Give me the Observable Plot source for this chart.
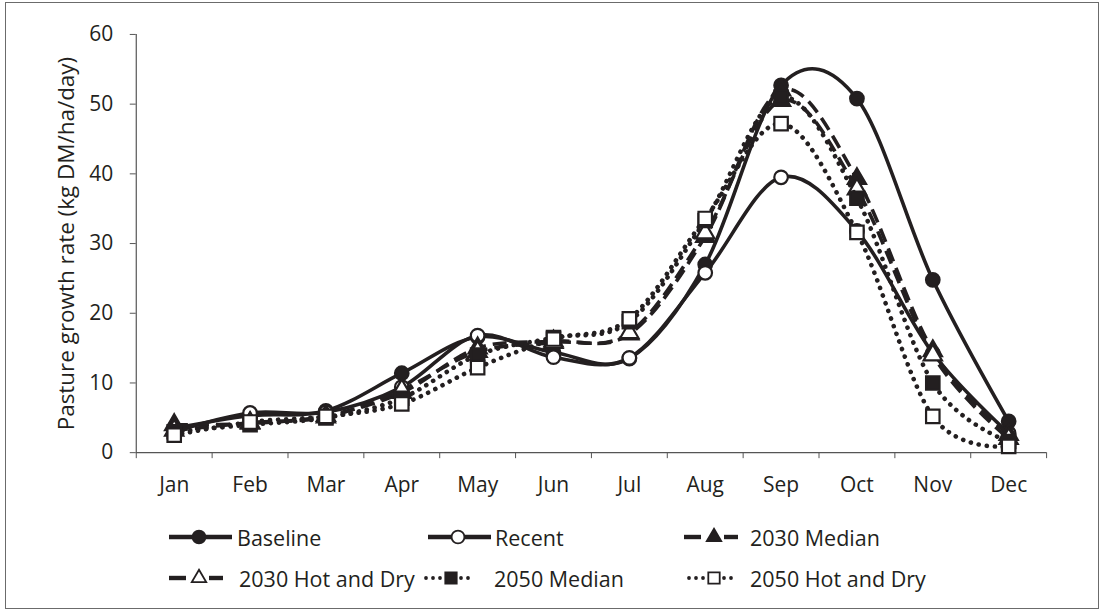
<!DOCTYPE html>
<html>
<head>
<meta charset="utf-8">
<script src="https://cdn.jsdelivr.net/npm/d3@7"></script>
<script src="https://cdn.jsdelivr.net/npm/@observablehq/plot@0.6"></script>
<style>
  html, body { margin: 0; padding: 0; background: #fff; }
  body { width: 1104px; height: 614px; position: relative; overflow: hidden; font-family: "Open Sans", sans-serif; }
  #frame { position: absolute; left: 5px; top: 2px; width: 1094px; height: 607px; border: 1px solid #6b6b6b; box-sizing: border-box; }
  #chart { position: absolute; left: 0; top: 0; }
  .leg { position: absolute; height: 24px; display: flex; align-items: center; font-size: 21.5px; color: #231f20; white-space: nowrap; }
  .leg svg { display: block; }
</style>
</head>
<body>
<div id="frame">
  <div id="chart"></div>
  <div id="legend"></div>
</div>
<script>
const months = ["Jan", "Feb", "Mar", "Apr", "May", "Jun", "Jul", "Aug", "Sep", "Oct", "Nov", "Dec"];
const yTicks = [0, 10, 20, 30, 40, 50, 60];
const seriesNames = ["Baseline", "Recent", "2030 Median", "2030 Hot and Dry", "2050 Median", "2050 Hot and Dry"];
const baseline = [3.5, 5.3, 6.0, 11.4, 16.6, 14.4, 13.5, 27.0, 52.7, 50.8, 24.8, 4.5];
const recent   = [3.0, 5.7, 5.8, 9.4, 16.8, 13.7, 13.6, 25.8, 39.5, 31.8, 14.3, 2.8];
const med2030  = [4.0, 4.2, 5.3, 8.6, 15.0, 16.0, 17.0, 31.0, 52.0, 39.3, 14.6, 2.6];
const hd2030   = [3.2, 4.3, 5.1, 9.0, 14.5, 15.8, 17.2, 31.5, 50.5, 37.8, 14.0, 2.0];
const med2050  = [3.0, 4.0, 5.0, 7.8, 14.0, 16.5, 18.8, 33.3, 51.0, 36.5, 10.0, 1.6];
const hd2050   = [2.5, 4.4, 5.2, 7.0, 12.2, 16.3, 19.2, 33.6, 47.2, 31.6, 5.2, 0.9];

const ink = "#231f20";
const styles = [
  {values: baseline, symbol: "circle",   fill: ink,    kind: "solid",  r: 6.8},
  {values: recent,   symbol: "circle",   fill: "#fff", kind: "solid",  r: 6.8},
  {values: med2030,  symbol: "triangle", fill: ink,    kind: "dash",   r: 6.8},
  {values: hd2030,   symbol: "triangle", fill: "#fff", kind: "dash",   r: 6.8},
  {values: med2050,  symbol: "square",   fill: ink,    kind: "dot",    r: 7.6},
  {values: hd2050,   symbol: "square",   fill: "#fff", kind: "dot",    r: 7.6}
];
const lineStyle = {
  solid: {strokeWidth: 3.6, strokeDasharray: null, strokeLinecap: "butt"},
  dash:  {strokeWidth: 3.6, strokeDasharray: "14,7", strokeLinecap: "butt"},
  dot:   {strokeWidth: 4.6, strokeDasharray: "0.1,8", strokeLinecap: "round"}
};

const marks = [
  Plot.ruleX([0], {stroke: "#555", strokeWidth: 1.2}),
  Plot.ruleY([0], {stroke: "#555", strokeWidth: 1.2}),
  Plot.axisY({ticks: yTicks, tickSize: 6, tickPadding: 17, fontSize: 21, stroke: "#555",
    label: "Pasture growth rate (kg DM/ha/day)", labelAnchor: "center", labelArrow: "none", labelOffset: 78,
    color: ink}),
  Plot.axisX({ticks: d3.range(13), tickSize: 6, tickFormat: () => "", stroke: "#555", label: null}),
  Plot.axisX({ticks: months.map((m, i) => i + 0.5), tickSize: 0, tickPadding: 24, fontSize: 21,
    tickFormat: d => months[Math.floor(d)], label: null, color: ink})
];

styles.forEach((s, k) => {
  const rows = s.values.map((v, i) => ({x: i + 0.5, y: v, series: seriesNames[k]}));
  marks.push(Plot.line(rows, {x: "x", y: "y", curve: "cardinal", tension: 0, stroke: ink, ...lineStyle[s.kind]}));
  marks.push(Plot.dot(rows, {x: "x", y: "y", symbol: s.symbol, r: s.r, fill: s.fill, stroke: ink, strokeWidth: 2.2}));
});

const chart = Plot.plot({
  width: 1094,
  height: 500,
  marginLeft: 130,
  marginRight: 52,
  marginTop: 31,
  marginBottom: 50,
  style: {fontFamily: "Open Sans, sans-serif", color: ink, background: "transparent"},
  x: {type: "linear", domain: [0, 12], axis: null},
  y: {domain: [0, 60], axis: null},
  marks
});
document.getElementById("chart").appendChild(chart);
chart.querySelectorAll("[aria-label='y-axis label'] text").forEach(t => t.setAttribute("font-size", "22.5"));

// Legend (HTML below the SVG)
const legendPos = [
  {left: 160, top: 522}, {left: 419, top: 522}, {left: 675, top: 522},
  {left: 160, top: 563}, {left: 412, top: 563}, {left: 675, top: 563}
];
const textGap = [-1, -2, -3, 1, 4, -3];
const legend = document.getElementById("legend");
styles.forEach((s, k) => {
  const item = document.createElement("div");
  item.className = "leg";
  item.style.left = legendPos[k].left + "px";
  item.style.top = legendPos[k].top + "px";
  const w = 72, h = 24, cx = 33, cy = 12;
  const svg = d3.create("svg").attr("width", w).attr("height", h);
  const seg = (a, b) => svg.append("line").attr("x1", a).attr("x2", b).attr("y1", cy).attr("y2", cy)
    .attr("stroke", ink).attr("stroke-width", 4.4);
  const dot = (x) => svg.append("circle").attr("cx", x).attr("cy", cy).attr("r", 1.9).attr("fill", ink);
  if (s.kind === "solid") seg(3, 66);
  else if (s.kind === "dash") { seg(3, 20); seg(cx + 10, cx + 24); }
  else { dot(8); dot(15); dot(22); dot(cx + 10); dot(cx + 17); }
  const sym = {circle: d3.symbolCircle, triangle: d3.symbolTriangle, square: d3.symbolSquare}[s.symbol];
  const area = s.symbol === "triangle" ? 90 : 130;
  svg.append("path").attr("transform", `translate(${cx},${cy})`)
    .attr("d", d3.symbol(sym, area)())
    .attr("fill", s.fill).attr("stroke", ink).attr("stroke-width", 1.8);
  item.appendChild(svg.node());
  const t = document.createElement("span");
  t.textContent = seriesNames[k];
  t.style.marginLeft = textGap[k] + "px";
  item.appendChild(t);
  legend.appendChild(item);
});
</script>
</body>
</html>
